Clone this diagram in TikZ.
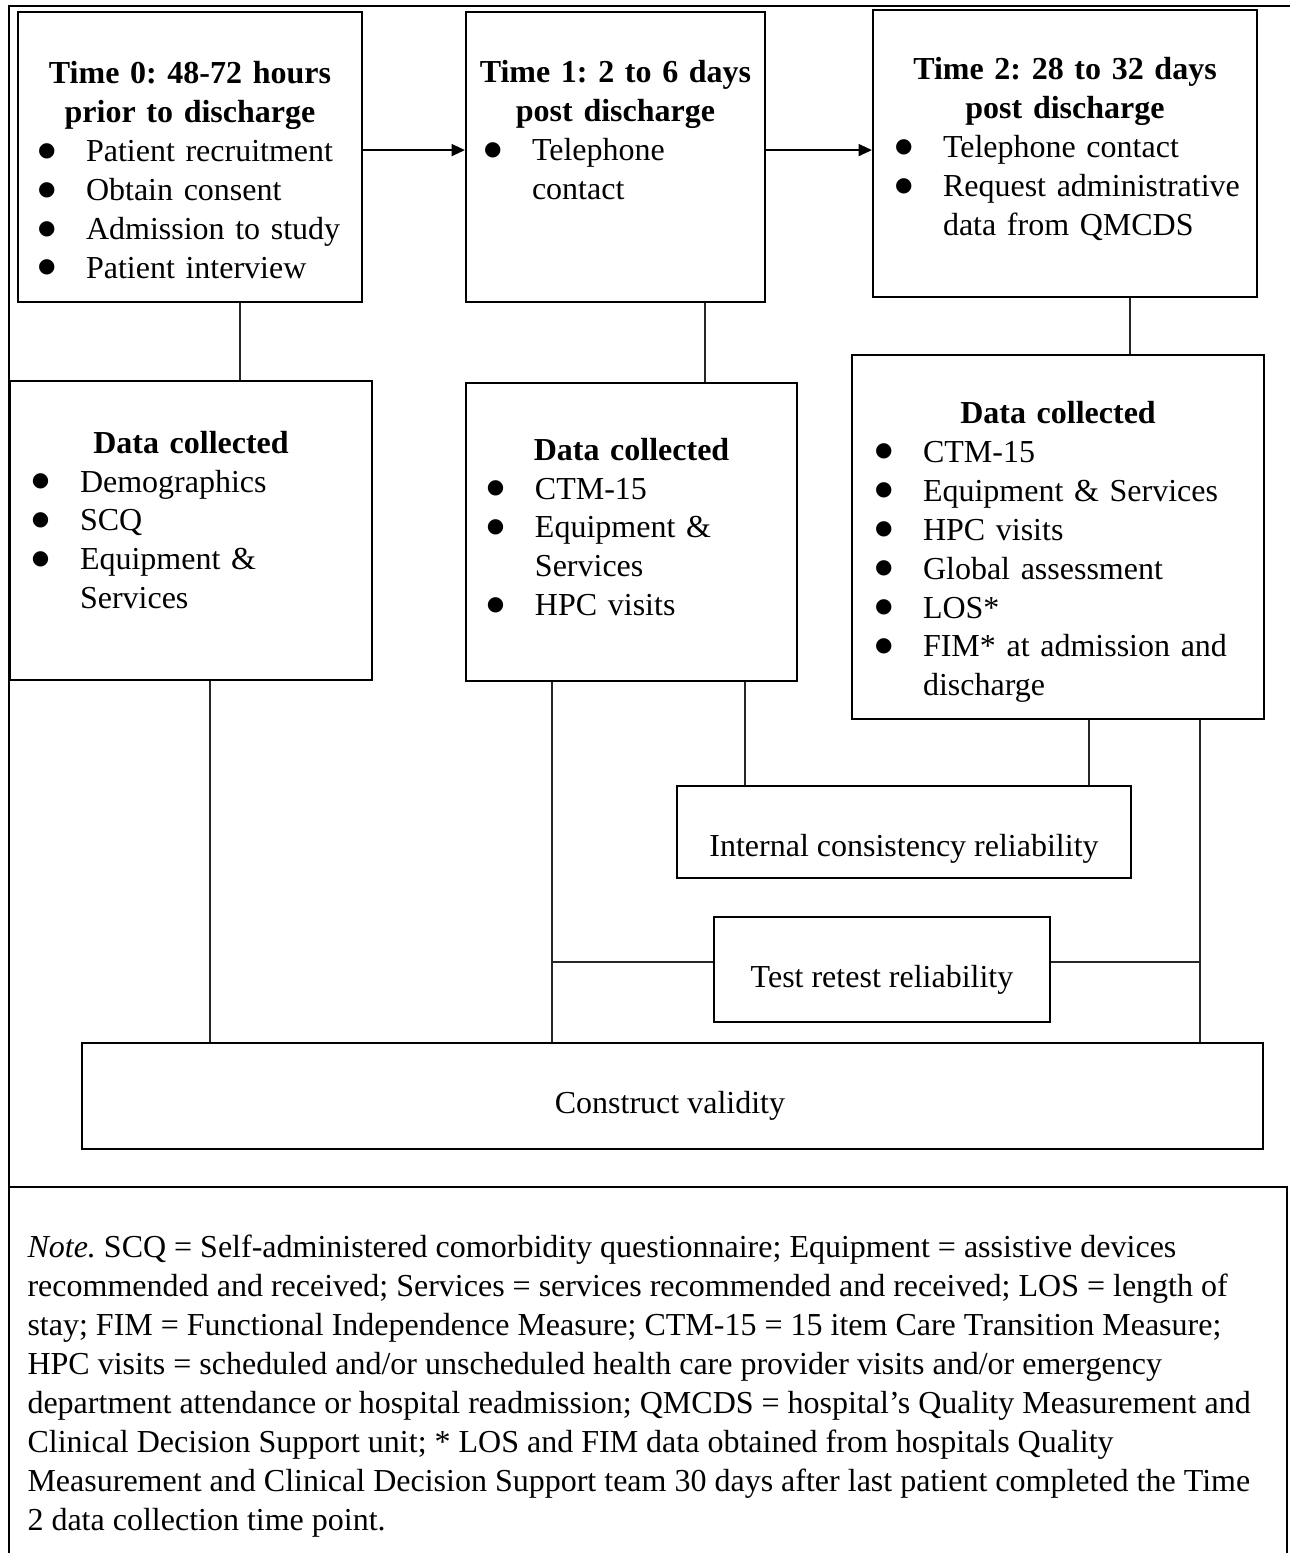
\documentclass[tikz,border=0pt]{standalone}
\usepackage{fontspec}
\setmainfont{Liberation Serif}
\newfontfamily\symfont{DejaVu Sans}
\usetikzlibrary{arrows.meta}
\frenchspacing
\tikzstyle{boxNode} = [draw, rectangle, line width=0.8pt, inner sep=0pt]
\tikzstyle{textBlock} = [inner sep=0pt, font=\fontsize{12pt}{14.6pt}\selectfont]
\tikzstyle{link} = [line width=0.6pt, black!85]
\tikzstyle{flowArrow} = [line width=0.6pt, -{Triangle[length=5pt,width=4.5pt]}]
\newcommand{\bigbul}{\raisebox{2pt}{\symfont\fontsize{7.5pt}{8pt}\selectfont ●}}
\newcommand{\itm}[1]{\noindent\makebox[18pt][l]{\bigbul}\mbox{#1}\par}
\newcommand{\cnt}[1]{\noindent\hspace*{18pt}\mbox{#1}\par}
\newcommand{\ttl}[1]{\noindent\makebox[\hsize]{\bfseries #1}\par}
\begin{document}
\begin{tikzpicture}[x=0.375pt, y=-0.375pt]
  \useasboundingbox (0,0) rectangle (1290,1553);

  % frame round the figure and the note
  \draw[line width=1pt] (9,1553) -- (9,6) -- (1290,6);
  \draw[line width=0.8pt] (9,1187) -- (1287,1187) -- (1287,1553);

  % time points
  \node[boxNode, minimum width=129pt, minimum height=108.75pt] (node_T0) at (190,157) {};
  \node[boxNode, minimum width=112.125pt, minimum height=108.75pt] (node_T1) at (615.5,157) {};
  \node[boxNode, minimum width=144pt, minimum height=107.625pt] (node_T2) at (1065,153.5) {};

  % data collected
  \node[boxNode, minimum width=135.75pt, minimum height=112.125pt] (data_T0) at (191,530.5) {};
  \node[boxNode, minimum width=124.125pt, minimum height=111.75pt] (data_T1) at (631.5,532) {};
  \node[boxNode, minimum width=154.5pt, minimum height=136.5pt] (data_T2) at (1058,537) {};

  % analyses
  \node[boxNode, line width=0.5pt, minimum width=170.25pt, minimum height=34.5pt] (node_ICR) at (904,832) {};
  \node[boxNode, minimum width=126pt, minimum height=39.375pt] (node_TRR) at (882,969.5) {};
  \node[boxNode, minimum width=442.875pt, minimum height=39.75pt] (node_CV) at (672.5,1096) {};

  % texts
  \node[textBlock, text width=114pt] (text_T0) at (190,170) {\ttl{Time 0: 48-72 hours}\ttl{prior to discharge}\itm{Patient recruitment}\itm{Obtain consent}\itm{Admission to study}\itm{Patient interview}};
  \node[textBlock, text width=98.6pt] (text_T1) at (615.5,130) {\ttl{Time 1: 2 to 6 days}\ttl{post discharge}\itm{Telephone}\cnt{contact}};
  \node[textBlock, text width=127.5pt] (text_T2) at (1065,149) {\ttl{Time 2: 28 to 32 days}\ttl{post discharge}\itm{Telephone contact}\itm{Request administrative}\cnt{data from QMCDS}};
  \node[textBlock, text width=119.25pt] (text_D0) at (191,520) {\ttl{Data collected}\itm{Demographics}\itm{SCQ}\itm{Equipment \&}\cnt{Services}};
  \node[textBlock, text width=108.4pt] (text_D1) at (631.5,527) {\ttl{Data collected}\itm{CTM-15}\itm{Equipment \&}\cnt{Services}\itm{HPC visits}};
  \node[textBlock, text width=137.25pt] (text_D2) at (1058,552) {\ttl{Data collected}\itm{CTM-15}\itm{Equipment \& Services}\itm{HPC visits}\itm{Global assessment}\itm{LOS*}\itm{FIM* at admission and}\cnt{discharge}};
  \node[textBlock] (text_ICR) at (904,849) {Internal consistency reliability};
  \node[textBlock] (text_TRR) at (882,980) {Test retest reliability};
  \node[textBlock] (text_CV) at (670,1106) {Construct validity};
  \node[textBlock, align=left, anchor=west] (text_note) at (27,1386) {\textit{Note.} SCQ = Self-administered comorbidity questionnaire; Equipment = assistive devices\\
    recommended and received; Services = services recommended and received; LOS = length of\\
    stay; FIM = Functional Independence Measure; CTM-15 = 15 item Care Transition Measure;\\
    HPC visits = scheduled and/or unscheduled health care provider visits and/or emergency\\
    department attendance or hospital readmission; QMCDS = hospital’s Quality Measurement and\\
    Clinical Decision Support unit; * LOS and FIM data obtained from hospitals Quality\\
    Measurement and Clinical Decision Support team 30 days after last patient completed the Time\\
    2 data collection time point.};

  % arrows between time points
  \draw[flowArrow] ([yshift=2.6pt]node_T0.east) -- ([yshift=2.6pt]node_T1.west);
  \draw[flowArrow] ([yshift=2.6pt]node_T1.east) -- ([yshift=2.6pt]node_T1.east -| node_T2.west);

  % time points to data collected
  \draw[link] ([xshift=18.75pt]node_T0.south) -- ([xshift=18.75pt]node_T0.south |- data_T0.north);
  \draw[link] ([xshift=33.56pt]node_T1.south) -- ([xshift=33.56pt]node_T1.south |- data_T1.north);
  \draw[link] ([xshift=24.4pt]node_T2.south) -- ([xshift=24.4pt]node_T2.south |- data_T2.north);

  % data collected to analyses
  \coordinate (j1) at ([xshift=-29.8pt]data_T1.south);
  \coordinate (j2) at ([xshift=53.25pt]data_T2.south);
  \draw[link] ([xshift=7.1pt]data_T0.south) -- ([xshift=7.1pt]data_T0.south |- node_CV.north);
  \draw[link] ([xshift=42.56pt]data_T1.south) -- ([xshift=42.56pt]data_T1.south |- node_ICR.north);
  \draw[link] ([xshift=11.6pt]data_T2.south) -- ([xshift=11.6pt]data_T2.south |- node_ICR.north);
  \draw[link] (j1) -- (j1 |- node_CV.north);
  \draw[link] (j2) -- (j2 |- node_CV.north);
  \draw[link] ([yshift=2.8pt]node_TRR.west) -- ([yshift=2.8pt]node_TRR.west -| j1);
  \draw[link] ([yshift=2.8pt]node_TRR.east) -- ([yshift=2.8pt]node_TRR.east -| j2);
\end{tikzpicture}
\end{document}
